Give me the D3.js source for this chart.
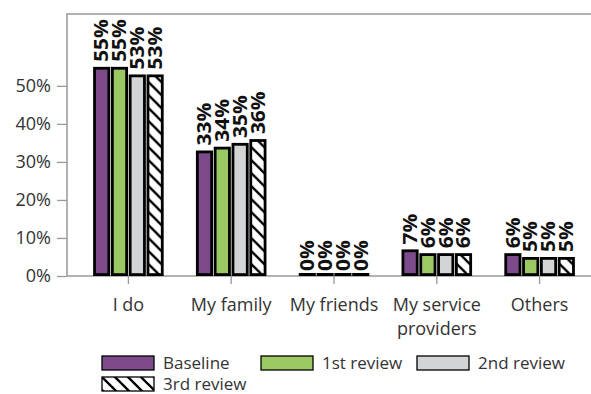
<!DOCTYPE html>
<html>
<head>
<meta charset="utf-8">
<script src="https://cdn.jsdelivr.net/npm/d3@7"></script>
<style>
  body { margin: 0; background: #fff; }
  svg { font-family: "Open Sans", sans-serif; }
</style>
</head>
<body>
<div id="chart"></div>
<script>
  const categories = ["I do", "My family", "My friends", "My service providers", "Others"];
  const series = ["Baseline", "1st review", "2nd review", "3rd review"];
  const baseline = [55, 33, 0, 7, 6];
  const review1 = [55, 34, 0, 6, 5];
  const review2 = [53, 35, 0, 6, 5];
  const review3 = [53, 36, 0, 6, 5];
  const yTicks = [0, 10, 20, 30, 40, 50];

  const values = [baseline, review1, review2, review3];
  const colors = ["#7d4b8c", "#9bc862", "#d3d4d6", "url(#hatch)"];

  const width = 591, height = 394;
  const margin = { top: 14, right: 0, bottom: 118, left: 67 };

  const svg = d3.select("#chart").append("svg")
    .attr("width", width)
    .attr("height", height);

  // hatch pattern for 3rd review
  const pat = svg.append("defs").append("pattern")
    .attr("id", "hatch")
    .attr("patternUnits", "userSpaceOnUse")
    .attr("width", 13)
    .attr("height", 13);
  pat.append("rect").attr("width", 13).attr("height", 13).attr("fill", "#fff");
  pat.append("path")
    .attr("d", "M0,0L13,13M-3,10L3,16M10,-3L16,3")
    .attr("stroke", "#000")
    .attr("stroke-width", 2.3);

  const x0 = d3.scaleBand()
    .domain(categories)
    .range([77, width])
    .paddingInner(0.3)
    .paddingOuter(0.15);

  const x1 = d3.scaleBand()
    .domain(series)
    .range([0, x0.bandwidth()])
    .padding(0.04);

  const y = d3.scaleLinear()
    .domain([0, 68.9])
    .range([height - margin.bottom, margin.top]);

  // frame (top + left)
  svg.append("path")
    .attr("d", `M${margin.left},${y(0)}V${margin.top}H${width}`)
    .attr("fill", "none")
    .attr("stroke", "#999")
    .attr("stroke-width", 1.5);

  // y axis
  const yAxis = svg.append("g")
    .attr("transform", `translate(${margin.left},0)`)
    .call(d3.axisLeft(y).tickValues(yTicks).tickFormat(d => d + "%").tickSize(10).tickPadding(6));
  yAxis.select(".domain").remove();
  yAxis.selectAll("line").attr("stroke", "#999").attr("stroke-width", 1.3);
  yAxis.selectAll("text")
    .attr("fill", "#333")
    .style("font-size", "18px")
    .style("font-family", "Open Sans");

  // x axis
  const xAxis = svg.append("g")
    .attr("transform", `translate(0,${y(0)})`)
    .call(d3.axisBottom(x0).tickSize(8).tickSizeOuter(0).tickPadding(14));
  xAxis.select(".domain")
    .attr("d", `M${margin.left},0H${width}`)
    .attr("stroke", "#999")
    .attr("stroke-width", 1.5);
  xAxis.selectAll("line").attr("stroke", "#999").attr("stroke-width", 1.3);
  xAxis.selectAll("text")
    .attr("fill", "#333")
    .style("font-size", "18px")
    .style("font-family", "Open Sans")
    .each(function (d) {
      const t = d3.select(this);
      if (d === "My service providers") {
        t.text(null);
        t.append("tspan").attr("x", 0).attr("dy", "0.71em").text("My service");
        t.append("tspan").attr("x", 0).attr("dy", "1.33em").text("providers");
        t.attr("dy", null);
      }
    });

  // bars
  const groups = svg.append("g").selectAll("g")
    .data(categories)
    .join("g")
    .attr("transform", d => `translate(${x0(d)},0)`);

  groups.selectAll("rect")
    .data((c, ci) => series.map((s, si) => ({ s, si, v: values[si][ci] })))
    .join("rect")
    .attr("x", d => x1(d.s) + 1.4)
    .attr("y", d => Math.min(y(d.v) + 1.4, y(0) - 1.6))
    .attr("width", x1.bandwidth() - 2.8)
    .attr("height", d => Math.max(0.2, y(0) - y(d.v) - 2.8))
    .attr("fill", d => colors[d.si])
    .attr("stroke", "#000")
    .attr("stroke-width", 2.8);

  groups.selectAll("text")
    .data((c, ci) => series.map((s, si) => ({ s, si, v: values[si][ci] })))
    .join("text")
    .attr("transform", d => `translate(${x1(d.s) + x1.bandwidth() / 2 + 6.8},${y(d.v) - 5}) rotate(-90) scale(1.1,1)`)
    .attr("text-anchor", "start")
    .style("font-size", "19px")
    .style("font-weight", "bold")
    .attr("fill", "#111")
    .text(d => d.v + "%");

  // legend
  const legendPos = [[102, 356], [261, 356], [417, 356], [102, 377]];
  const legend = svg.append("g").selectAll("g")
    .data(series)
    .join("g")
    .attr("transform", (d, i) => `translate(${legendPos[i][0]},${legendPos[i][1]})`);
  legend.append("rect")
    .attr("width", 52)
    .attr("height", 14)
    .attr("fill", (d, i) => colors[i])
    .attr("stroke", "#000")
    .attr("stroke-width", 1.3);
  legend.append("text")
    .attr("x", 61)
    .attr("y", 7)
    .attr("dy", "0.35em")
    .attr("fill", "#333")
    .style("font-size", "17px")
    .text(d => d);
</script>
</body>
</html>
